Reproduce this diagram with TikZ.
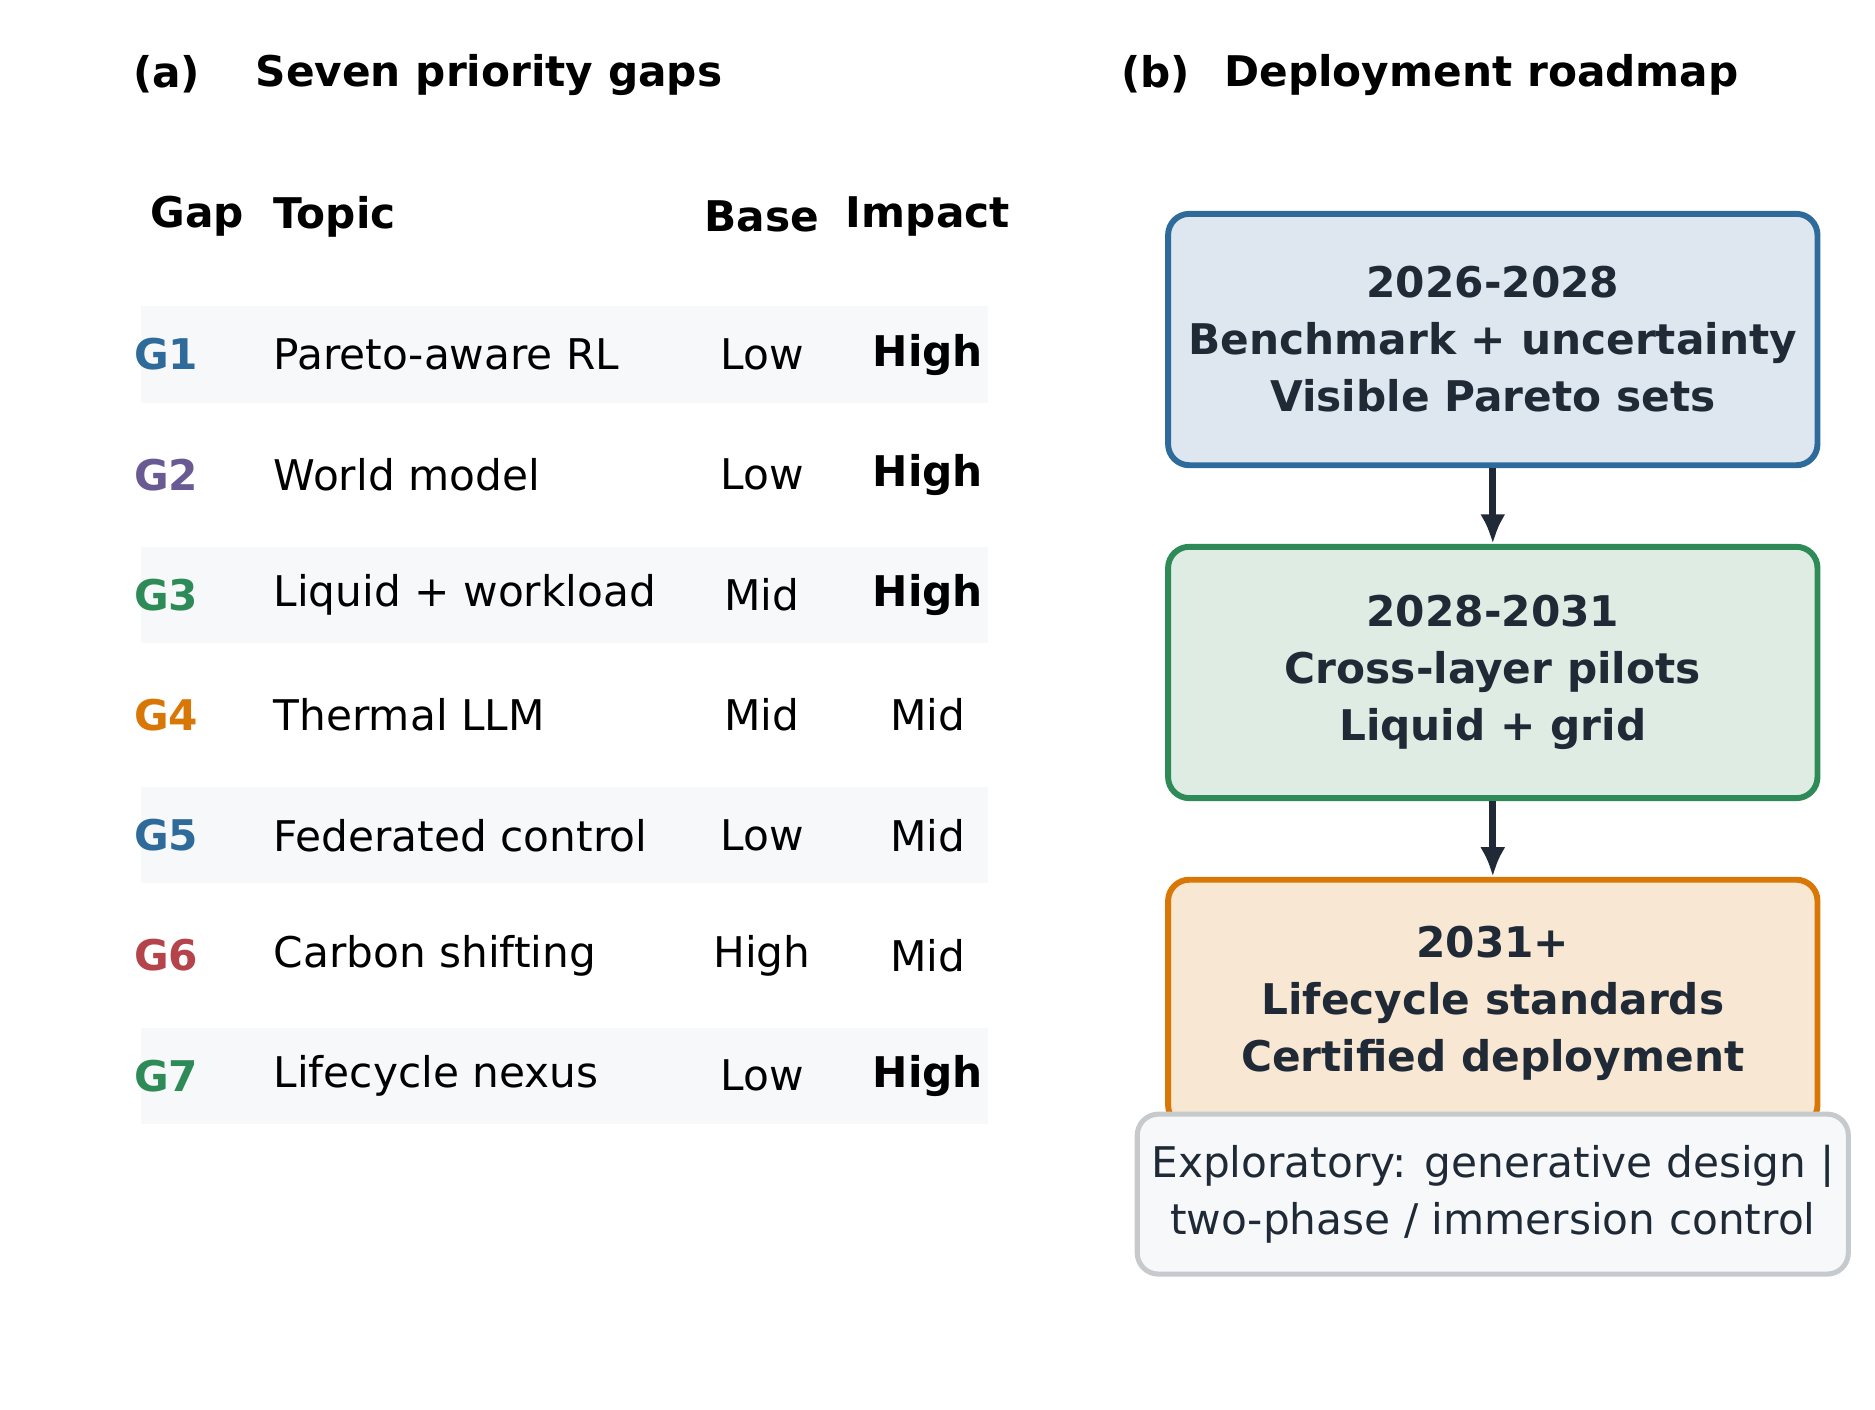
\documentclass[tikz,border=0pt]{standalone}
\usepackage{fontspec}
\setmainfont{DejaVu Sans}
\usepackage{tikz}
\usetikzlibrary{arrows.meta}
\definecolor{cblue}{HTML}{2E6A9A}
\definecolor{cpurple}{HTML}{6A5A94}
\definecolor{cgreen}{HTML}{2E8B57}
\definecolor{corange}{HTML}{D97706}
\definecolor{cred}{HTML}{B5434B}
\definecolor{cink}{HTML}{1F2A36}
\definecolor{cband}{HTML}{F6F8FA}
\tikzset{
  txt/.style={font=\fontsize{10}{12}\selectfont, inner sep=0pt},
  hdr/.style={txt, font=\fontsize{10}{12}\selectfont\bfseries},
  stage/.style={draw, line width=1.4pt, rounded corners=5pt, text=cink, align=center,
    minimum width=5.4cm, font=\fontsize{10}{13.5}\selectfont\bfseries},
  flow/.style={-{Latex[length=7pt,width=6pt]}, line width=1.6pt, draw=cink}
}
\begin{document}
\begin{tikzpicture}[x=0.01cm, y=-0.01cm]
\useasboundingbox (0,0) rectangle (1560,1173);
% panel (a)
\node[hdr, anchor=west] (ta) at (110,62) {(a)};
\node[hdr, anchor=west] (tatitle) at (212,62) {Seven priority gaps};
\node[hdr] (hgap) at (164,180) {Gap};
\node[hdr, anchor=west] (htopic) at (227,180) {Topic};
\node[hdr] (hbase) at (634,180) {Base};
\node[hdr] (himpact) at (772,180) {Impact};
\foreach \y in {295,495,695,895}
  \fill[cband] (117,\y-40) rectangle (822,\y+40);
\foreach \i/\col/\topic/\base/\impact [count=\n from 0] in {
  1/cblue/Pareto-aware RL/Low/\textbf{High},
  2/cpurple/World model/Low/\textbf{High},
  3/cgreen/Liquid + workload/Mid/\textbf{High},
  4/corange/Thermal LLM/Mid/Mid,
  5/cblue/Federated control/Low/Mid,
  6/cred/Carbon shifting/High/Mid,
  7/cgreen/Lifecycle nexus/Low/\textbf{High}}
{
  \node[txt, anchor=west, text=\col, font=\fontsize{10}{12}\selectfont\bfseries] (g\i) at (111,295+100*\n) {G\i};
  \node[txt, anchor=west] (t\i) at (227,295+100*\n) {\topic};
  \node[txt] (b\i) at (634,295+100*\n) {\base};
  \node[txt] (m\i) at (772,295+100*\n) {\impact};
}
% panel (b)
\node[hdr, anchor=west] (tb) at (932,62) {(b)};
\node[hdr, anchor=west] (tbtitle) at (1018,62) {Deployment roadmap};
\node[stage, fill=cblue!16, draw=cblue, minimum height=2.09cm] (s1) at (1242,282.5)
  {2026-2028\\Benchmark + uncertainty\\Visible Pareto sets};
\node[stage, fill=cgreen!16, draw=cgreen, minimum height=2.09cm] (s2) at (1242,559.5)
  {2028-2031\\Cross-layer pilots\\Liquid + grid};
\node[stage, fill=corange!18, draw=corange, minimum height=2.05cm] (s3) at (1242,834.5)
  {2031+\\Lifecycle standards\\Certified deployment};
\node[stage, fill=cband, draw=cink!25, line width=1.2pt, minimum height=1.33cm,
  font=\fontsize{10}{13.5}\selectfont] (s4) at (1242,993.5)
  {Exploratory: generative design |\\two-phase / immersion control};
\draw[flow] (s1) -- (s2);
\draw[flow] (s2) -- (s3);
\end{tikzpicture}
\end{document}
